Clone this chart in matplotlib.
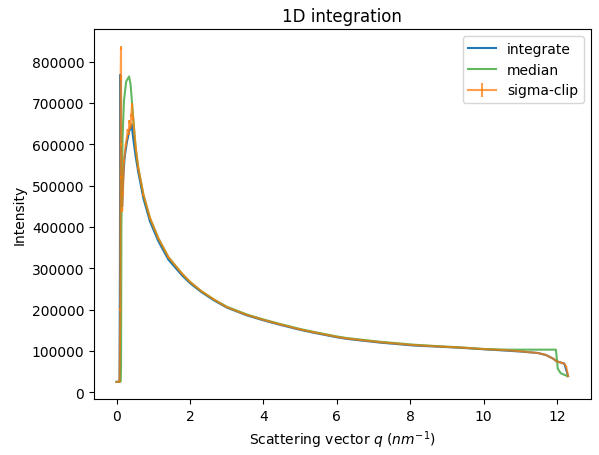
import numpy as np
import matplotlib
matplotlib.use('Agg')
import matplotlib.pyplot as plt

# values
q_int = [0.0, 0.05, 0.08, 0.09, 0.10, 0.11, 0.13, 0.15, 0.18, 0.22, 0.28, 0.34,
         0.41, 0.455, 0.52, 0.59, 0.73, 0.91, 1.14, 1.41, 1.78, 2.0,
         2.3, 2.64, 3.0, 3.55, 4.0, 4.46, 5.0, 5.37, 6.0, 6.28, 7.19, 8.1,
         8.83, 9.38, 10.0, 10.65, 11.0, 11.47, 11.7, 11.9, 11.98, 12.1, 12.2, 12.3]
I_int = [25000, 25000, 26000, 300000, 768000, 600000, 470000, 450000, 520000, 570000, 605000, 630000,
         648000, 612000, 570000, 533000, 469000, 413000, 365000, 321000, 283000, 264000,
         243000, 223000, 205000, 186000, 174000, 163000, 151000, 144000, 133000, 129000, 120000, 113000,
         110000, 107500, 104000, 100500, 98500, 95000, 90000, 81000, 75000, 72000, 69000, 39000]

q_med = [0.0, 0.08, 0.11, 0.12, 0.13, 0.16, 0.20, 0.26, 0.34, 0.38, 0.42, 0.46,
         0.52, 0.59, 0.73, 0.91, 1.14, 1.41, 1.78, 2.0, 2.3, 2.64,
         3.0, 3.55, 4.0, 4.46, 5.0, 5.37, 6.0, 6.28, 7.19, 8.1, 8.83, 9.38,
         10.0, 10.65, 11.0, 11.5, 11.97, 12.02, 12.1, 12.28]
I_med = [25000, 25000, 26000, 60000, 400000, 610000, 705000, 752000, 764000, 745000, 700000, 655000,
         590000, 543000, 478000, 421000, 372000, 327000, 287000, 267000, 245000, 225000,
         207000, 188000, 176000, 165000, 153000, 146000, 135000, 131000, 122000, 115000, 111000, 108500,
         104500, 103000, 103000, 103000, 103000, 57000, 46000, 39000]

q_sc = [0.0, 0.05, 0.08, 0.10, 0.11, 0.12, 0.125, 0.13, 0.15, 0.17, 0.20, 0.25,
        0.28, 0.30, 0.33, 0.35, 0.37, 0.38, 0.40, 0.42, 0.45, 0.52, 0.59, 0.73,
        0.91, 1.14, 1.41, 1.78, 2.0, 2.3, 2.64, 3.0, 3.55, 4.0,
        4.46, 5.0, 5.37, 6.0, 6.28, 7.19, 8.1, 8.83, 9.38, 10.0, 10.65, 11.0,
        11.47, 11.7, 11.9, 11.98, 12.1, 12.2, 12.25, 12.3]
I_sc = [25000, 25000, 26000, 200000, 760000, 833000, 600000, 520000, 440000, 480000, 560000, 600000,
        615000, 635000, 625000, 655000, 640000, 648000, 670000, 696000, 662000, 592000, 543000, 478000,
        421000, 372000, 327000, 287000, 267000, 245000, 225000, 206000, 187000, 175000,
        164000, 152000, 145000, 134000, 130000, 121000, 114000, 110500, 108000, 104500, 101500, 99000,
        95000, 90000, 81000, 75000, 72000, 69000, 62000, 39000]
err_sc = [500, 500, 500, 3000, 5000, 5000, 4000, 4000, 3000, 3000, 3000, 3000,
          3000, 3000, 3000, 3000, 3000, 3000, 3000, 3000, 3000, 2500, 2500, 2000,
          2000, 2000, 1500, 1500, 1000, 1000, 1000, 1000, 800, 800,
          800, 700, 700, 600, 600, 600, 500, 500, 500, 500, 500, 500,
          500, 500, 500, 500, 500, 500, 500, 500]

fig = plt.figure(figsize=(5.99, 4.56), dpi=100)
ax = fig.add_axes([0.157, 0.123, 0.829, 0.811])

ax.plot(q_int, I_int, label='integrate', color='C0')
ax.plot(q_med, I_med, label='median', color='C2', alpha=0.75)
ax.errorbar(q_sc, I_sc, yerr=err_sc, label='sigma-clip', color='C1', alpha=0.75)

ax.set_title('1D integration')
ax.set_xlabel('Scattering vector $q$ ($nm^{-1}$)')
ax.set_ylabel('Intensity')
ax.legend()

fig.savefig('out.png', dpi=100)
